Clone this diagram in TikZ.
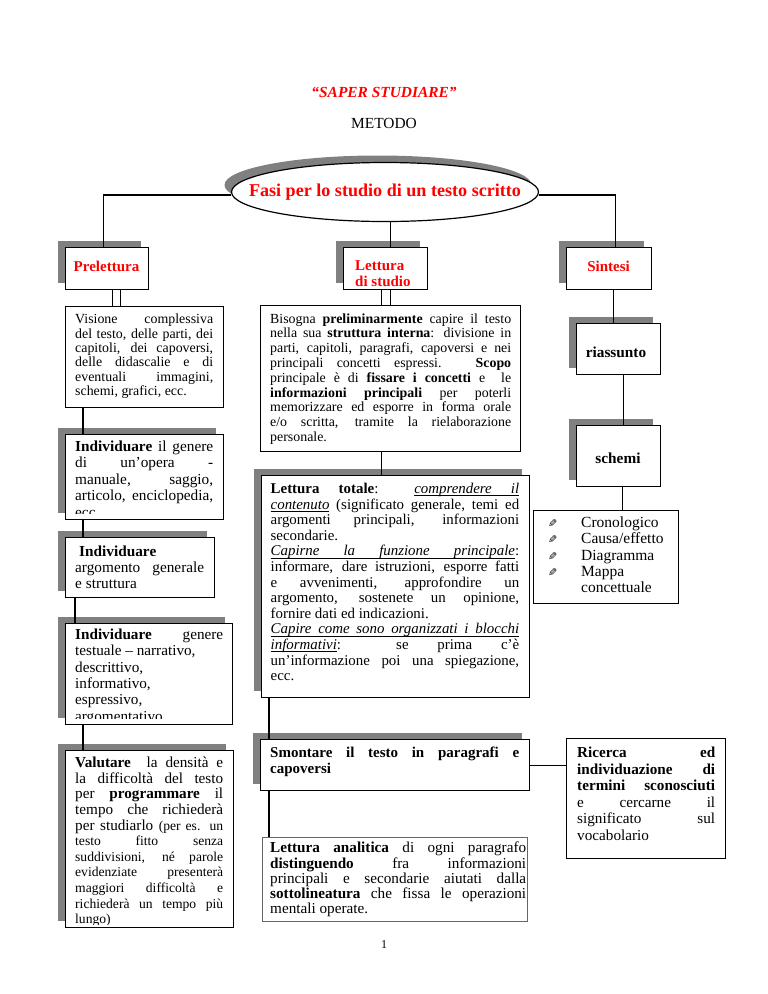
\documentclass[tikz,border=0pt]{standalone}
\usepackage{fontspec}
\setmainfont{Liberation Serif}
\newfontfamily\symf{DejaVu Sans}
\usepackage{graphicx}
\usetikzlibrary{shapes.geometric,shadows,calc}
\newcommand\fs[2]{\fontsize{#1}{#2}\selectfont}
\newcommand\bsym{{\symf\fs{11}{11}\scalebox{-1}[1]{✎}}}
\newcommand\smallfs{\fontsize{13.6}{15.6}\selectfont}
\newcommand\uw[1]{\leavevmode\setbox0\hbox{#1}\rlap{\vrule height -1.6pt depth 2.3pt width\wd0}\box0\relax}
\newcommand\usp{\leaders\hrule height -1.6pt depth 2.3pt\hskip\fontdimen2\font plus\fontdimen3\font minus\fontdimen4\font\relax}
\tikzset{
  bx/.style={draw=black, line width=1.2pt, fill=white, inner sep=0pt, anchor=north west},
  shd/.style={drop shadow={shadow xshift=-8pt, shadow yshift=7pt, fill=black!50, opacity=1}},
  txt/.style={anchor=north west, inner sep=0pt, align=justify,
    execute at begin node={\hyphenpenalty=10000\exhyphenpenalty=10000\tolerance=10000\parindent=0pt}},
  ttl/.style={font=\fs{15}{16}\bfseries, text=red, inner sep=0pt},
  ttlb/.style={font=\fs{15.3}{17}\bfseries, inner sep=0pt},
  conn/.style={line width=1.2pt, black},
}
\begin{document}
\begin{tikzpicture}[x=1pt,y=-1pt]
\useasboundingbox (0,0) rectangle (768,994);
\fill[white] (0,0) rectangle (768,994);

% header
\node[font=\fs{15.4}{18}\bfseries\itshape, text=red] (hdr) at (384,92) {“SAPER STUDIARE”};
\node[font=\fs{15.4}{18}] (met) at (384,123) {METODO};
\node[font=\fs{12}{14}] (pg) at (384,945) {1};

% oval
\node[ellipse, draw=black, line width=1.2pt, fill=white, minimum width=307pt, minimum height=59pt, inner sep=0pt,
  drop shadow={shadow xshift=-7pt, shadow yshift=7pt, fill=black!50, opacity=1}] (oval) at (385,192) {};
\node[font=\fs{18.1}{20}\bfseries, text=red, inner sep=0pt] (ovaltxt) at (385,192) {Fasi per lo studio di un testo scritto};

% top boxes
\node[bx, shd, minimum width=83pt, minimum height=42pt] (prelett) at (65,247) {};
\node[ttl] (prelettT) at (106.5,266) {Prelettura};
\node[bx, shd, minimum width=84pt, minimum height=42pt] (lett) at (343,247) {};
\node[ttl, anchor=west, align=left, font=\fs{15}{16}\bfseries] (lettT) at (355,274) {Lettura\\di studio};
\node[bx, shd, minimum width=85pt, minimum height=42pt] (sint) at (566,247) {};
\node[ttl] (sintT) at (608.5,266) {Sintesi};

% left column
\node[bx, minimum width=158pt, minimum height=101pt] (vis) at (65,306) {};
\node[txt, text width=138pt, font=\fs{13.9}{14.3}] (visT) at (75,314) {Visione complessiva\linebreak
del testo, delle parti, dei\linebreak
capitoli, dei capoversi,\linebreak
delle didascalie e di\linebreak
eventuali immagini,\linebreak
schemi, grafici, ecc.};

\node[bx, shd, minimum width=158pt, minimum height=85pt] (gen) at (65,434) {};
\begin{scope}
\clip (65,434) rectangle (223,513.5);
\node[txt, text width=138pt, font=\fs{15.3}{16.5}] (genT) at (75,440.5) {\textbf{Individuare} il genere\linebreak
di un’opera -\linebreak
manuale, saggio,\linebreak
articolo, enciclopedia,\linebreak
ecc.};
\end{scope}

\node[bx, shd, minimum width=149pt, minimum height=60pt] (arg) at (65,537) {};
\node[txt, text width=129pt, font=\fs{15.3}{15.8}] (argT) at (75,545.7) {\hspace*{4pt}\textbf{Individuare}\\
argomento generale\linebreak
e struttura};

\node[bx, shd, minimum width=167pt, minimum height=101pt] (test) at (65,623) {};
\begin{scope}
\clip (65,623) rectangle (232,718);
\node[txt, text width=148pt, font=\fs{15.2}{16.3}] (testT) at (75,628.8) {\textbf{Individuare} genere\linebreak
testuale – narrativo,\\
descrittivo,\\
informativo,\\
espressivo,\\
argomentativo.};
\end{scope}

\node[bx, shd, minimum width=168pt, minimum height=177pt] (val) at (65,750) {};
\begin{scope}
\clip (65,750) rectangle (233,924);
\node[txt, text width=148pt, font=\fs{15.2}{15.6}] (valT) at (75,757) {\textbf{Valutare}\ \ la densità e\linebreak
la difficoltà del testo\linebreak
per \textbf{programmare} il\linebreak
tempo che richiederà\linebreak
per studiarlo {\smallfs (per es. un\linebreak
testo fitto senza\linebreak
suddivisioni, né parole\linebreak
evidenziate presenterà\linebreak
maggiori difficoltà e\linebreak
richiederà un tempo più\linebreak
lungo)}};
\end{scope}

% middle column
\node[bx, minimum width=260pt, minimum height=146pt] (bis) at (260,305) {};
\node[txt, text width=241pt, font=\fs{13.9}{14.8}] (bisT) at (270,313.3) {Bisogna \textbf{preliminarmente} capire il testo\linebreak
nella sua \textbf{struttura interna}: divisione in\linebreak
parti, capitoli, paragrafi, capoversi e nei\linebreak
principali concetti espressi. \textbf{Scopo}\linebreak
principale è di \textbf{fissare i concetti} e\ \ le\linebreak
\textbf{informazioni principali} per poterli\linebreak
memorizzare ed esporre in forma orale\linebreak
e/o scritta, tramite la rielaborazione\linebreak
personale.};

\node[bx, shd, minimum width=268pt, minimum height=222pt] (tot) at (261,475) {};
\node[txt, text width=248.5pt, font=\fs{14.9}{15.6}] (totT) at (270.5,483) {\textbf{Lettura totale}: \uw{\textit{comprendere}}\usp\uw{\textit{il}}\linebreak
\uw{\textit{contenuto}} (significato generale,\ temi ed\linebreak
argomenti principali, informazioni\linebreak
secondarie.\par
\uw{\textit{Capirne}}\usp\uw{\textit{la}}\usp\uw{\textit{funzione}}\usp\uw{\textit{principale}}:\linebreak
informare, dare istruzioni, esporre fatti\linebreak
e avvenimenti, approfondire un\linebreak
argomento, sostenete un opinione,\linebreak
fornire dati ed indicazioni.\par
\uw{\textit{Capire}}\usp\uw{\textit{come}}\usp\uw{\textit{sono}}\usp\uw{\textit{organizzati}}\usp\uw{\textit{i}}\usp\uw{\textit{blocchi}}\linebreak
\uw{\textit{informativi}}: se prima c’è\linebreak
un’informazione poi una spiegazione,\linebreak
ecc.};

\node[bx, shd, minimum width=269pt, minimum height=51pt] (smo) at (260,739) {};
\node[txt, text width=249pt, font=\fs{15}{15.5}] (smoT) at (270,746.8) {\textbf{Smontare il testo in paragrafi e}\linebreak
\textbf{capoversi}};

\node[bx, draw=black!60, line width=0.9pt, minimum width=265pt, minimum height=84pt] (ana) at (262,837) {};
\node[txt, text width=256pt, font=\fs{15.2}{15.2}] (anaT) at (270,842) {\textbf{Lettura analitica} di ogni paragrafo\linebreak
\textbf{distinguendo} fra informazioni\linebreak
principali e secondarie aiutati dalla\linebreak
\textbf{sottolineatura} che fissa le operazioni\linebreak
mentali operate.};

% right column
\node[bx, shd, minimum width=84pt, minimum height=51pt] (ria) at (576,323) {};
\node[ttlb] (riaT) at (616,352.7) {riassunto};
\node[bx, shd, minimum width=84pt, minimum height=61pt] (sch) at (576,425) {};
\node[ttlb] (schT) at (618,458) {schemi};

\node[bx, minimum width=145pt, minimum height=93pt] (bul) at (533,510) {};
\node[anchor=north west, inner sep=0pt, align=left, font=\fs{15.5}{16.3}] (bulT) at (548,516.6) {%
\makebox[33pt][l]{\bsym}Cronologico\\
\makebox[33pt][l]{\bsym}Causa/effetto\\
\makebox[33pt][l]{\bsym}Diagramma\\
\makebox[33pt][l]{\bsym}Mappa\\
\makebox[33pt][l]{}concettuale};

\node[bx, minimum width=159pt, minimum height=120pt] (ric) at (566,738) {};
\node[txt, text width=138pt, font=\fs{15.2}{16.5}] (ricT) at (577,746.8) {\textbf{Ricerca ed}\linebreak
\textbf{individuazione di}\linebreak
\textbf{termini sconosciuti}\linebreak
e cercarne il\linebreak
significato sul\linebreak
vocabolario};

% connectors
\draw[conn] ([yshift=-3pt]oval.west) -| ([xshift=-3.5pt]prelett.north);
\draw[conn] ([yshift=-3pt]oval.east) -| ([xshift=6.5pt]sint.north);
\draw[conn] ([xshift=5pt]lett.north) -- ([xshift=5pt]lett.north |- oval.south);

\draw[conn] ([xshift=5.5pt]prelett.south) -- ([xshift=5.5pt]prelett.south |- vis.north);
\draw[conn] ([xshift=13.5pt]prelett.south) -- ([xshift=13.5pt]prelett.south |- vis.north);
\draw[conn] ([xshift=18pt]vis.south west) -- ([xshift=18pt]vis.south west |- gen.north);
\draw[conn] ([xshift=18pt]gen.south west) -- ([xshift=18pt]gen.south west |- arg.north);
\draw[conn] ([xshift=10pt]arg.south west) -- ([xshift=10pt]arg.south west |- test.north);
\draw[conn] ([xshift=18pt]test.south west) -- ([xshift=18pt]test.south west |- val.north);

\draw[conn] ([xshift=-4pt]lett.south) -- ([xshift=-4pt]lett.south |- bis.north);
\draw[conn] ([xshift=5pt]lett.south) -- ([xshift=5pt]lett.south |- bis.north);
\draw[conn] ([xshift=-9pt]bis.south) -- ([xshift=-9pt]bis.south |- tot.north);
\draw[conn] ([xshift=8pt]tot.south west) -- ([xshift=8pt]tot.south west |- smo.north);
\draw[conn] ([xshift=9pt]smo.south west) -- ([xshift=9pt]smo.south west |- ana.north);
\draw[conn] (smo.east) -- (smo.east -| ric.west);

\draw[conn] ([xshift=4.5pt]sint.south) -- ([xshift=4.5pt]sint.south |- ria.north);
\draw[conn] ([xshift=5pt]ria.south) -- ([xshift=5pt]ria.south |- sch.north);
\draw[conn] ([xshift=4pt]sch.south) -- ([xshift=4pt]sch.south |- bul.north);
\end{tikzpicture}
\end{document}
